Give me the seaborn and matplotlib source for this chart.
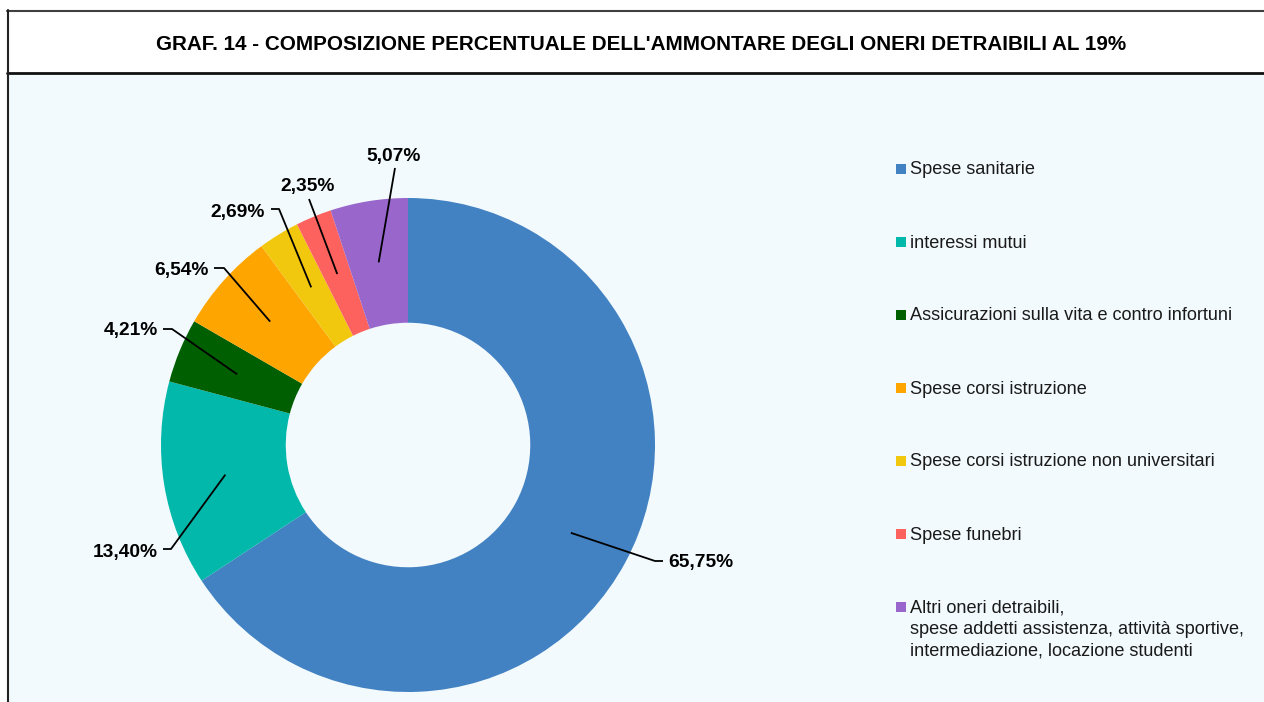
import matplotlib
matplotlib.use("Agg")
import matplotlib.pyplot as plt
from matplotlib.lines import Line2D
from matplotlib.patches import Rectangle
import numpy as np
import seaborn as sns

# ---- data ----
categories = [
    "Spese sanitarie",
    "interessi mutui",
    "Assicurazioni sulla vita e contro infortuni",
    "Spese corsi istruzione",
    "Spese corsi istruzione non universitari",
    "Spese funebri",
    "Altri oneri detraibili,\nspese addetti assistenza, attività sportive,\nintermediazione, locazione studenti",
]
values = [65.75, 13.40, 4.21, 6.54, 2.69, 2.35, 5.07]
value_labels = ["65,75%", "13,40%", "4,21%", "6,54%", "2,69%", "2,35%", "5,07%"]
title = "GRAF. 14 - COMPOSIZIONE PERCENTUALE DELL'AMMONTARE DEGLI ONERI DETRAIBILI AL 19%"

colors = ["#4282C2", "#01B8AA", "#005F00", "#FFA500", "#F2C80F", "#FD625E", "#9966CC"]

sns.set_theme(style="white")
plt.rcParams["font.family"] = ["Liberation Sans", "DejaVu Sans"]
palette = sns.color_palette(colors)

W, H = 1264, 702
fig = plt.figure(figsize=(W / 100, H / 100), dpi=100)
fig.patch.set_facecolor("white")

BG = "#F2FAFD"
# plot area background
fig.add_artist(Rectangle((8 / W, 0), 1 - 8 / W, (H - 73) / H, transform=fig.transFigure,
                         facecolor=BG, edgecolor="none", zorder=0))
# frame lines
fig.add_artist(Line2D([7 / W, 1], [1 - 10.5 / H, 1 - 10.5 / H], transform=fig.transFigure,
                      color="#404040", lw=1.5))
fig.add_artist(Line2D([7 / W, 1], [1 - 72.5 / H, 1 - 72.5 / H], transform=fig.transFigure,
                      color="#111111", lw=2.0))
fig.add_artist(Line2D([7.5 / W, 7.5 / W], [0, 1 - 10 / H], transform=fig.transFigure,
                      color="#222222", lw=1.5))

fig.text(641.5 / W, 1 - 44.5 / H, title, ha="center", va="center",
         fontsize=14.9, fontweight="bold", color="black")

# ---- donut ----
CX, CY, R = 408, 445, 247
half = 300
ax = fig.add_axes([(CX - half) / W, (H - CY - half) / H, 2 * half / W, 2 * half / H])
ax.set_facecolor("none")
wedges, _ = ax.pie(values, colors=palette, radius=1, startangle=90, counterclock=False,
                   wedgeprops=dict(width=0.505, edgecolor="none"))
ax.set_xlim(-half / R, half / R)
ax.set_ylim(-half / R, half / R)
ax.set_aspect("equal")
ax.axis("off")


def p2d(px, py):
    return (px - CX) / R, (CY - py) / R


# label layout in pixels: (elbow, tail_end, text_pos, ha)
layout = [
    ((655, 561), (663, 561), (668, 563), "left"),
    ((171, 549), (163, 549), (158, 552), "right"),
    ((172, 329), (163, 329), (158, 331), "right"),
    ((224, 268), (214, 268), (209, 271), "right"),
    ((279, 209), (271, 209), (265, 212), "right"),
    ((309, 199), (309, 199), (308, 187), "center"),
    ((395, 168), (395, 168), (394, 156), "center"),
]

cum = 0.0
total = sum(values)
for v, lab, (elb, tail, tp, ha) in zip(values, value_labels, layout):
    mid = (cum + v / 2) / total
    cum += v
    ang = np.deg2rad(90 - 360 * mid)
    ax_, ay_ = 0.749 * np.cos(ang), 0.749 * np.sin(ang)
    ex, ey = p2d(*elb)
    tx, ty = p2d(*tail)
    ax.plot([ax_, ex, tx], [ay_, ey, ty], color="black", lw=1.3, solid_capstyle="butt",
            clip_on=False)
    px_, py_ = p2d(*tp)
    ax.text(px_, py_, lab, ha=ha, va="center", fontsize=13.8, fontweight="bold",
            color="black", clip_on=False)

# ---- legend ----
for i, (cat, col) in enumerate(zip(categories, palette)):
    y = 169 + 73 * i
    fig.add_artist(Rectangle((896 / W, 1 - (y + 5) / H), 10 / W, 10 / H,
                             transform=fig.transFigure, facecolor=col, edgecolor="none"))
    fig.text(910 / W, 1 - (y - 7.5) / H, cat, ha="left", va="top", fontsize=13.1,
             color="#1a1a1a", linespacing=1.36)

fig.savefig("out.png", dpi=100, facecolor=fig.get_facecolor())
